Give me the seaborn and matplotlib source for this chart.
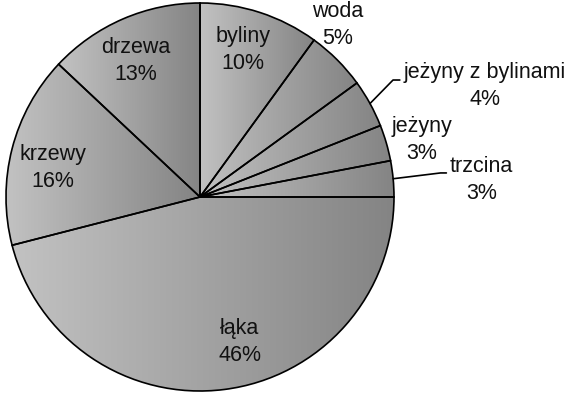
import matplotlib
matplotlib.use("Agg")
import matplotlib.pyplot as plt
from matplotlib.colors import LinearSegmentedColormap
import numpy as np
import seaborn as sns

# udzial typow pokrycia terenu (%)
categories = ["byliny", "woda", "jeżyny z bylinami", "jeżyny", "trzcina",
              "łąka", "krzewy", "drzewa"]
shares = [10, 5, 4, 3, 3, 46, 16, 13]

# label centres in pie units (radius = 1), and which labels get a leader line
label_xy = [(0.222, 0.758), (0.711, 0.887), (1.47, 0.57), (1.144, 0.294),
            (1.45, 0.088), (0.206, -0.747), (-0.758, 0.149), (-0.33, 0.70)]
leader_elbow = {2: (0.995, 0.603, 1.03), 4: (1.24, 0.124, 1.27)}

sns.set_theme(style="white")
plt.rcParams['font.family'] = ['Liberation Sans', 'DejaVu Sans']

fig = plt.figure(figsize=(5.72, 3.93), dpi=100)
ax = fig.add_axes([6 / 572, 2 / 393, 388 / 572, 388 / 393])

wedges, _ = ax.pie(shares, startangle=90, counterclock=False, radius=1,
                   wedgeprops=dict(edgecolor="black", linewidth=1.2,
                                   facecolor="none", zorder=2))

# each slice gets its own left-to-right grey gradient (light -> dark)
grey = LinearSegmentedColormap.from_list("grey", ["#c2c2c2", "#848484"])
grad = np.linspace(0, 1, 256).reshape(1, -1)
for w in wedges:
    ext = w.get_path().get_extents()
    im = ax.imshow(grad, cmap=grey, aspect="auto", zorder=1,
                   extent=(ext.x0, ext.x1, ext.y0, ext.y1))
    im.set_clip_path(w)

for i, (name, val) in enumerate(zip(categories, shares)):
    x, y = label_xy[i]
    ax.text(x, y, f"{name}\n{val}%", ha="center", va="center",
            multialignment="center", fontsize=15.5, color="#111111",
            linespacing=1.38, clip_on=False, zorder=3)

for i, (ex, ey, tx) in leader_elbow.items():
    w = wedges[i]
    mid = np.deg2rad((w.theta1 + w.theta2) / 2)
    ax.plot([np.cos(mid), ex, tx], [np.sin(mid), ey, ey], color="black",
            lw=1.2, clip_on=False, zorder=3)

ax.set_aspect("equal")
ax.set_xlim(-1, 1)
ax.set_ylim(-1, 1)
ax.axis("off")

fig.savefig("out.png", dpi=100)
